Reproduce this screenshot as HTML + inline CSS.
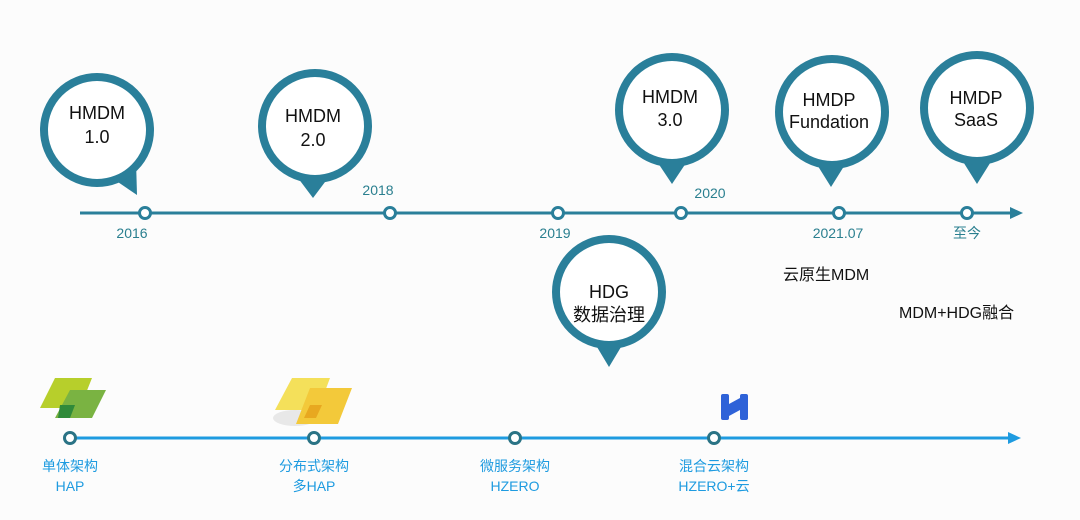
<!DOCTYPE html>
<html><head><meta charset="utf-8"><style>
html,body{margin:0;padding:0;background:#fcfcfc;}
svg{display:block;}
text{font-family:"Liberation Sans","Noto Sans CJK SC",sans-serif;}
</style></head><body>
<svg width="1080" height="520" viewBox="0 0 1080 520" xmlns="http://www.w3.org/2000/svg">
<rect width="1080" height="520" fill="#fcfcfc"/>
<line x1="80" y1="213" x2="1012" y2="213" stroke="#2a7f9a" stroke-width="3"/>
<polygon points="1010,207 1023,213 1010,219" fill="#2a7f9a"/>
<g fill="#fff" stroke="#2a7f9a" stroke-width="3">
<circle cx="145" cy="213" r="5.5"/><circle cx="390" cy="213" r="5.5"/><circle cx="558" cy="213" r="5.5"/>
<circle cx="681" cy="213" r="5.5"/><circle cx="839" cy="213" r="5.5"/><circle cx="967" cy="213" r="5.5"/>
</g>
<g fill="#2a7f8f" font-size="14" text-anchor="middle">
<text x="132" y="238">2016</text><text x="378" y="195">2018</text><text x="555" y="238">2019</text>
<text x="710" y="198">2020</text><text x="838" y="238">2021.07</text><text x="967" y="238">至今</text>
</g>
<g fill="#2a7f9a">
<polygon points="112,178 137,195 136,160"/>
<polygon points="298,178 313,198 328,178"/>
<polygon points="656,160 672,184 688,160"/>
<polygon points="816,163 831,187 846,163"/>
<polygon points="962,160 977,184 992,160"/>
<polygon points="594,342 609,367 624,342"/>
</g>
<g fill="#fff" stroke="#2a7f9a" stroke-width="8">
<circle cx="97" cy="130" r="53"/>
<circle cx="315" cy="126" r="53"/>
<circle cx="672" cy="110" r="53"/>
<circle cx="832" cy="112" r="53"/>
<circle cx="977" cy="108" r="53"/>
<circle cx="609" cy="292" r="53"/>
</g>
<g fill="#111" font-size="18" text-anchor="middle">
<text x="97" y="119">HMDM</text><text x="97" y="143">1.0</text>
<text x="313" y="122">HMDM</text><text x="313" y="146">2.0</text>
<text x="670" y="103">HMDM</text><text x="670" y="126">3.0</text>
<text x="829" y="106">HMDP</text><text x="829" y="128">Fundation</text>
<text x="976" y="104">HMDP</text><text x="976" y="126">SaaS</text>
<text x="609" y="298">HDG</text><text x="609" y="321">数据治理</text>
</g>
<g fill="#111" font-size="16">
<text x="783" y="280">云原生MDM</text>
<text x="899" y="318">MDM+HDG融合</text>
</g>
<line x1="70" y1="438" x2="1010" y2="438" stroke="#1e9be0" stroke-width="3"/>
<polygon points="1008,432 1021,438 1008,444" fill="#1e9be0"/>
<g fill="#fff" stroke="#2a7385" stroke-width="3">
<circle cx="70" cy="438" r="5.5"/><circle cx="314" cy="438" r="5.5"/><circle cx="515" cy="438" r="5.5"/><circle cx="714" cy="438" r="5.5"/>
</g>
<g fill="#1e9be0" font-size="14" text-anchor="middle">
<text x="70" y="471">单体架构</text><text x="70" y="491">HAP</text>
<text x="314" y="471">分布式架构</text><text x="314" y="491">多HAP</text>
<text x="515" y="471">微服务架构</text><text x="515" y="491">HZERO</text>
<text x="714" y="471">混合云架构</text><text x="714" y="491">HZERO+云</text>
</g>
<polygon points="55,378 92,378 80,408 40,408" fill="#b7cf2b"/>
<polygon points="70,390 106,390 92,418 55,418" fill="#7ab342"/>
<polygon points="60,405 75,405 70,418 58,418" fill="#2f8a3a"/>
<ellipse cx="295" cy="418" rx="22" ry="8" fill="#e8e8e8"/>
<polygon points="292,378 330,378 318,410 275,410" fill="#f4e05a"/>
<polygon points="310,388 352,388 338,424 296,424" fill="#f3c93a"/>
<polygon points="310,405 322,405 316,418 304,418" fill="#e8a820"/>
<g fill="#2e62d8">
<rect x="721" y="394" width="8" height="26" rx="2"/>
<rect x="740" y="394" width="8" height="26" rx="2"/>
<polygon points="729,404 740,398 740,410 729,416"/>
</g>
</svg>
</body></html>
